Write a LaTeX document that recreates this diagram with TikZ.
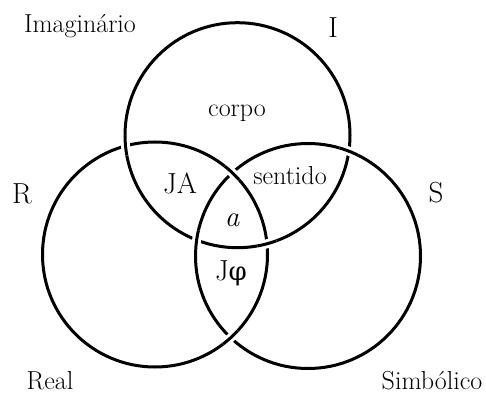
\documentclass[tikz,border=0pt]{standalone}
\usepackage{fontspec}
\newfontfamily\grkfont{DejaVu Serif}
\usetikzlibrary{intersections}
\tikzset{
  ring/.style={line width=3pt},
  gapband/.style={white, line width=9pt},
  smalllbl/.style={font=\fontsize{26}{30}\selectfont, anchor=base, inner sep=0pt},
  biglbl/.style={font=\fontsize{29}{34}\selectfont, anchor=base, inner sep=0pt}
}
\begin{document}
\begin{tikzpicture}[x=1pt,y=1pt]
\useasboundingbox (0,0) rectangle (486,394);
\coordinate (cI) at (237.5,258.8);
\coordinate (cR) at (155,139.5);
\coordinate (cS) at (308,138);
\def\rad{112.5}
\draw[ring, name path=ringI] (cI) circle (\rad);
\draw[ring, name path=ringR] (cR) circle (\rad);
\draw[ring, name path=ringS] (cS) circle (\rad);
% I over R
\path[name intersections={of=ringI and ringR, name=ir}];
\foreach \p in {ir-1, ir-2} {
  \begin{scope}
    \clip (\p) circle (10);
    \draw[gapband] (cI) circle (\rad);
    \draw[ring] (cI) circle (\rad);
  \end{scope}
}
% S over I
\path[name intersections={of=ringI and ringS, name=is}];
\foreach \p in {is-1, is-2} {
  \begin{scope}
    \clip (\p) circle (10);
    \draw[gapband] (cS) circle (\rad);
    \draw[ring] (cS) circle (\rad);
  \end{scope}
}
% R over S
\path[name intersections={of=ringR and ringS, name=rs}];
\foreach \p in {rs-1, rs-2} {
  \begin{scope}
    \clip (\p) circle (10);
    \draw[gapband] (cR) circle (\rad);
    \draw[ring] (cR) circle (\rad);
  \end{scope}
}
% labels
\node[smalllbl] (imag) at (80,361) {Imaginário};
\node[biglbl] (lI) at (333,356) {I};
\node[smalllbl] (corpo) at (237,277) {corpo};
\node[biglbl] (JA) at (180,201) {JA};
\node[smalllbl] (sent) at (290,210) {sentido};
\node[biglbl] (lR) at (22,191) {R};
\node[biglbl] (lS) at (436,192) {S};
\node[biglbl] (la) at (232,168) {\itshape a};
\node[biglbl] (Jphi) at (231,114) {J{\grkfont\fontsize{26}{30}\selectfont φ}};
\node[smalllbl] (real) at (50,5) {Real};
\node[smalllbl] (simb) at (432,5) {Simbólico};
\end{tikzpicture}
\end{document}
